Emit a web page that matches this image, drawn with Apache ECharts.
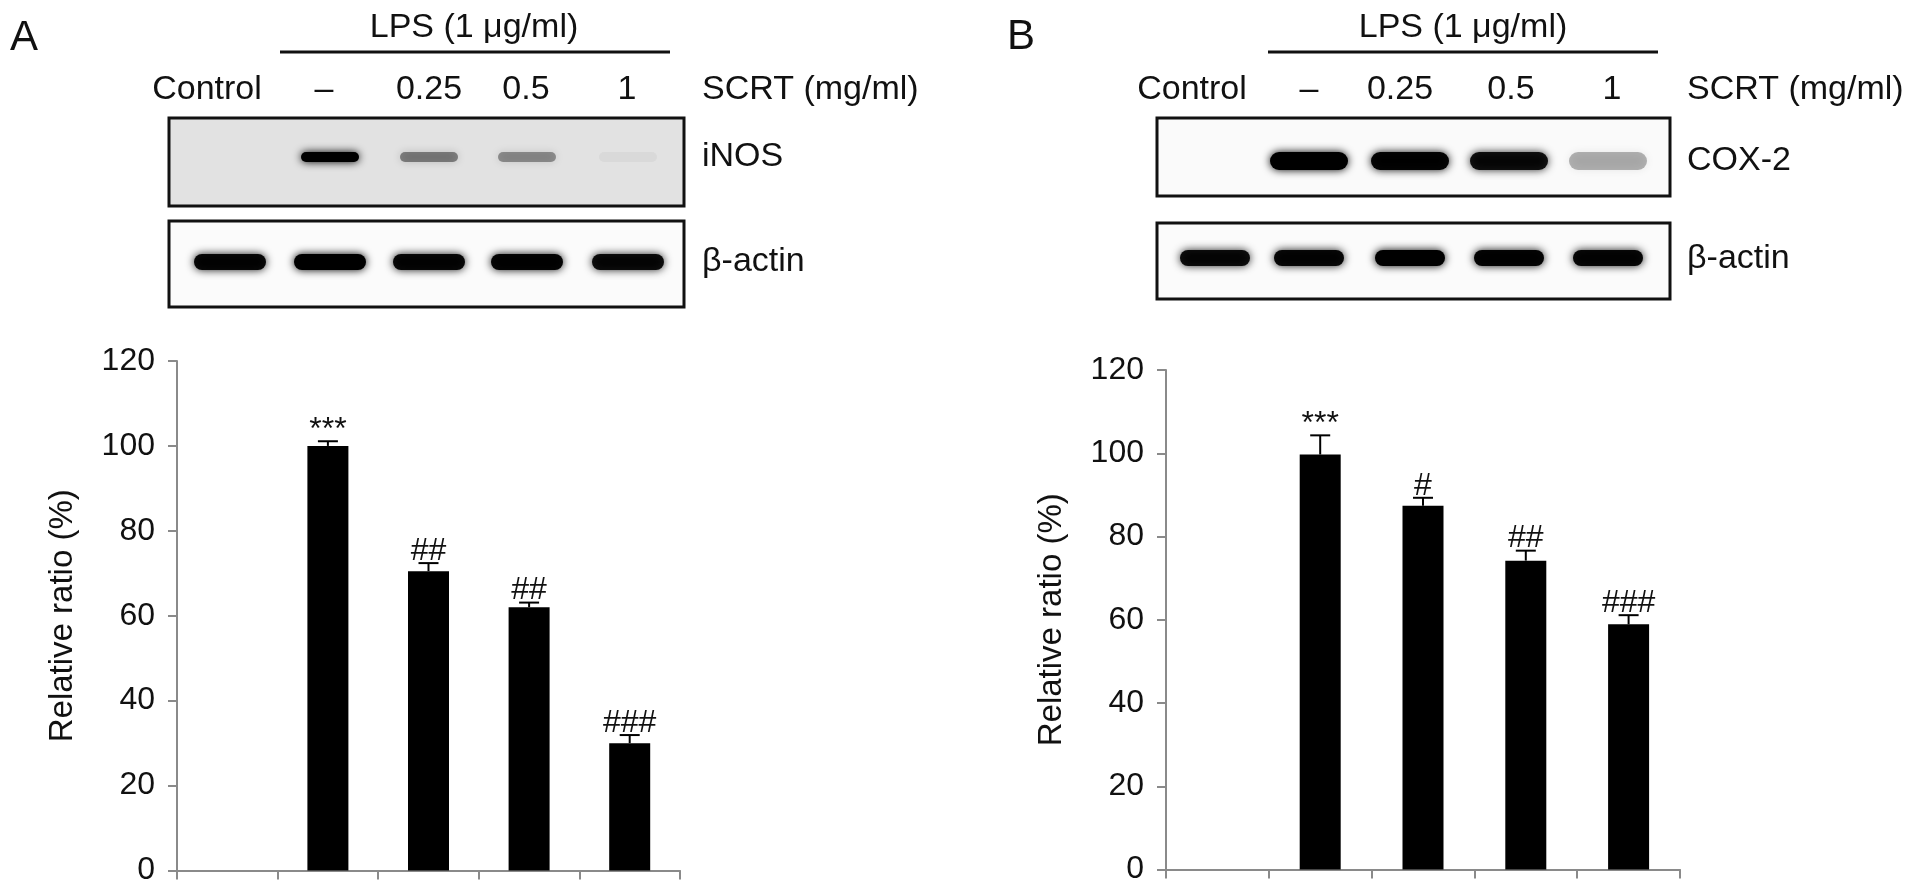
<!DOCTYPE html>
<html><head><meta charset="utf-8">
<script src="https://cdn.jsdelivr.net/npm/echarts@6/dist/echarts.min.js"></script>
<style>html,body{margin:0;padding:0;background:#fff}#c{width:1913px;height:894px}</style>
</head><body><div id="c"></div>
<script>
// ---------- data ----------
const categories = ['Control', 'LPS', 'LPS + SCRT 0.25', 'LPS + SCRT 0.5', 'LPS + SCRT 1'];
const laneLabels = ['Control', '–', '0.25', '0.5', '1'];
const yTicks = [0, 20, 40, 60, 80, 100, 120];
const inosValues = [null, 100, 70.5, 62, 30];
const inosErrors = [null, 1.1, 1.9, 1.1, 1.9];
const inosMarks = ['', '***', '##', '##', '###'];
const coxValues = [null, 99.7, 87.4, 74.2, 58.9];
const coxErrors = [null, 4.6, 1.9, 2.4, 2.2];
const coxMarks = ['', '***', '#', '##', '###'];
// relative band darkness on the blots
const inosBands = [0, 1, 0.42, 0.36, 0.04];
const actinBandsA = [0.95, 1, 0.95, 0.97, 0.92];
const coxBands = [0, 1, 0.97, 0.9, 0.28];
const actinBandsB = [0.92, 0.95, 1, 0.97, 0.95];

// ---------- layout ----------
const FONT = '"Liberation Sans", Arial, Helvetica, sans-serif';
const TXT = '#111';
const AX = '#8a8a8a';

const chart = echarts.init(document.getElementById('c'));

function txt(s, x, y, size, align, vAlign) {
  return {
    type: 'text', z: 50,
    style: {
      text: s, x: x, y: y, fill: TXT,
      font: size + 'px ' + FONT,
      align: align || 'center', textAlign: align || 'center',
      verticalAlign: vAlign || 'middle', textVerticalAlign: vAlign || 'middle'
    }
  };
}
function box(x, y, w, h, fill) {
  return { type: 'rect', z: 40, shape: { x: x, y: y, width: w, height: h },
    style: { fill: fill, stroke: '#111', lineWidth: 3 } };
}
function band(cx, cy, w, h, a) {
  if (a <= 0) return [];
  const col = 'rgba(0,0,0,' + a + ')';
  return [{ type: 'rect', z: 45,
    shape: { x: cx - w / 2 + 3, y: cy - h / 2 + 2, width: w - 6, height: h - 4, r: (h - 4) / 2 },
    style: { fill: col, shadowBlur: 9, shadowColor: col } }];
}

function blotPanel(o) {
  const els = [];
  els.push(txt(o.letter, o.letterX, o.letterY, 42, 'left'));
  els.push(txt('LPS (1 μg/ml)', o.lpsX, 28, 34));
  els.push({ type: 'line', z: 50, shape: { x1: o.lineX1, y1: 52, x2: o.lineX2, y2: 52 },
    style: { stroke: '#111', lineWidth: 3 } });
  laneLabels.forEach(function (l, i) { els.push(txt(l, o.labelX[i], 90, 34)); });
  els.push(txt('SCRT (mg/ml)', o.rightX, 90, 34, 'left'));
  // target blot
  els.push(box(o.boxX, 118, o.boxW, o.box1H, o.box1Fill));
  o.bands1.forEach(function (a, i) {
    band(o.lanes[i], o.band1Y, o.band1W, o.band1H, a).forEach(function (e) { els.push(e); });
  });
  els.push(txt(o.target, o.rightX, o.targetY, 34, 'left'));
  // beta actin blot
  els.push(box(o.boxX, o.box2Y, o.boxW, o.box2H, '#fbfbfb'));
  o.bands2.forEach(function (a, i) {
    band(o.lanes[i], o.band2Y, o.band2W, o.band2H, a).forEach(function (e) { els.push(e); });
  });
  els.push(txt('β-actin', o.rightX, o.actinY, 34, 'left'));
  return els;
}

const graphics = [].concat(
  blotPanel({
    letter: 'A', letterX: 10, letterY: 38, lpsX: 474, lineX1: 280, lineX2: 670,
    labelX: [207, 324, 429, 526, 627], rightX: 702,
    boxX: 169, boxW: 515, box1H: 88, box1Fill: '#e2e2e2', box2Y: 221, box2H: 86,
    lanes: [230, 330, 429, 527, 628],
    bands1: inosBands, band1Y: 157, band1W: 64, band1H: 14,
    bands2: actinBandsA, band2Y: 262, band2W: 78, band2H: 20,
    target: 'iNOS', targetY: 157, actinY: 262
  }),
  blotPanel({
    letter: 'B', letterX: 1007, letterY: 37, lpsX: 1463, lineX1: 1268, lineX2: 1658,
    labelX: [1192, 1309, 1400, 1511, 1612], rightX: 1687,
    boxX: 1157, boxW: 513, box1H: 78, box1Fill: '#fafafa', box2Y: 223, box2H: 76,
    lanes: [1215, 1309, 1410, 1509, 1608],
    bands1: coxBands, band1Y: 161, band1W: 84, band1H: 22,
    bands2: actinBandsB, band2Y: 258, band2W: 76, band2H: 20,
    target: 'COX-2', targetY: 161, actinY: 259
  })
);

function grid(left, top, width, height) {
  return { left: left, top: top, width: width, height: height, containLabel: false, outerBoundsMode: 'none' };
}
function xAx(gi) {
  return { type: 'category', gridIndex: gi, data: categories,
    axisLine: { show: true, lineStyle: { color: AX, width: 2 } },
    axisTick: { show: true, interval: 0, length: 9, lineStyle: { color: AX, width: 2 } },
    axisLabel: { show: false, interval: 0 }, splitLine: { show: false } };
}
function yAx(gi) {
  return { type: 'value', gridIndex: gi, min: yTicks[0], max: yTicks[yTicks.length - 1], interval: yTicks[1] - yTicks[0],
    axisLine: { show: true, lineStyle: { color: AX, width: 2 } },
    axisTick: { show: true, length: 9, lineStyle: { color: AX, width: 2 } },
    axisLabel: { fontSize: 32, color: TXT, fontFamily: FONT, margin: 22 },
    splitLine: { show: false },
    name: 'Relative ratio (%)', nameLocation: 'middle', nameGap: 98,
    nameTextStyle: { fontSize: 33, color: TXT, fontFamily: FONT } };
}
function barSeries(gi, vals) {
  return { type: 'bar', xAxisIndex: gi, yAxisIndex: gi, data: vals, barWidth: 41,
    itemStyle: { color: '#000' }, silent: true, animation: false };
}
function errSeries(gi, vals, errs, marks) {
  const d = [];
  vals.forEach(function (v, i) { if (v != null) d.push([i, v, errs[i], marks[i]]); });
  return { type: 'custom', xAxisIndex: gi, yAxisIndex: gi, z: 5, silent: true, animation: false,
    encode: { x: 0, y: 1 }, data: d,
    renderItem: function (params, api) {
      const i = api.value(0), v = api.value(1), e = api.value(2);
      const mk = d[params.dataIndex][3];
      const b = api.coord([i, v]);
      const t = api.coord([i, v + e]);
      const isStar = mk.indexOf('*') >= 0;
      return { type: 'group', children: [
        { type: 'line', shape: { x1: b[0], y1: b[1], x2: t[0], y2: t[1] }, style: { stroke: '#000', lineWidth: 2 } },
        { type: 'line', shape: { x1: t[0] - 10, y1: t[1], x2: t[0] + 10, y2: t[1] }, style: { stroke: '#000', lineWidth: 2 } },
        { type: 'text', style: { text: mk, x: t[0], y: t[1] + (isStar ? 5 : 4), fill: TXT,
            font: '32px ' + FONT, align: 'center', textAlign: 'center',
            verticalAlign: 'bottom', textVerticalAlign: 'bottom' } }
      ] };
    } };
}

chart.setOption({
  backgroundColor: '#fff',
  animation: false,
  grid: [grid(177, 361, 503, 509.5), grid(1166, 370, 514, 499.5)],
  xAxis: [xAx(0), xAx(1)],
  yAxis: [yAx(0), yAx(1)],
  series: [
    barSeries(0, inosValues), errSeries(0, inosValues, inosErrors, inosMarks),
    barSeries(1, coxValues), errSeries(1, coxValues, coxErrors, coxMarks)
  ],
  graphic: { elements: graphics }
});
</script>
</body></html>
